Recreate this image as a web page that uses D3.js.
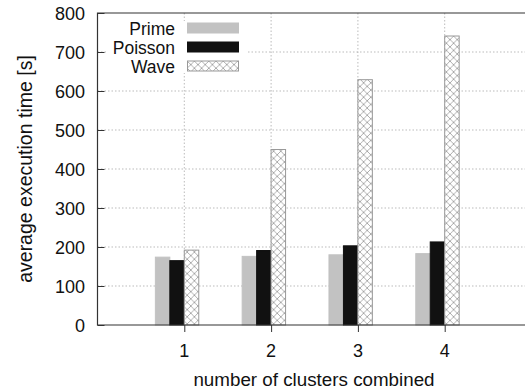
<!DOCTYPE html>
<html>
<head>
<meta charset="utf-8">
<script src="https://cdn.jsdelivr.net/npm/d3@7"></script>
<style>
  body { margin: 0; background: #fff; }
  svg { display: block; font-family: "Liberation Sans", Arial, sans-serif; }
</style>
</head>
<body>
<div id="chart"></div>
<script>
const clusters = [1, 2, 3, 4];
const primeTimes = [174, 176, 180, 183];
const poissonTimes = [165, 191, 203, 213];
const waveTimes = [192, 450, 629, 741];
const yTicks = [0, 100, 200, 300, 400, 500, 600, 700, 800];
const seriesNames = ["Prime", "Poisson", "Wave"];

const width = 525, height = 390;
const margin = { left: 97.5, top: 13, bottom: 325 };

const svg = d3.select("#chart")
    .append("svg")
    .attr("width", width)
    .attr("height", height);

// crosshatch for the Wave bars
const defs = svg.append("defs");
const hatch = defs.append("pattern")
    .attr("id", "hatch")
    .attr("patternUnits", "userSpaceOnUse")
    .attr("width", 7.2)
    .attr("height", 7.2);
hatch.append("rect").attr("width", 7.2).attr("height", 7.2).attr("fill", "#fff");
hatch.append("path")
    .attr("d", "M0,0L7.2,7.2M7.2,0L0,7.2")
    .attr("stroke", "#999")
    .attr("stroke-width", 0.8);

const x = d3.scaleLinear().domain([0, 5]).range([margin.left, margin.left + 5 * 86.8]);
const y = d3.scaleLinear().domain([0, 800]).range([margin.bottom, margin.top]);
const barW = (x(1) - x(0)) / 6;

// grid
svg.append("g")
    .selectAll("line")
    .data(yTicks.slice(1, -1))
    .enter().append("line")
    .attr("x1", margin.left).attr("x2", width)
    .attr("y1", d => y(d)).attr("y2", d => y(d))
    .attr("stroke", "#aaa")
    .attr("stroke-dasharray", "1.5,2")
    .attr("stroke-width", 0.8);

svg.append("g")
    .selectAll("line")
    .data(clusters)
    .enter().append("line")
    .attr("x1", d => x(d)).attr("x2", d => x(d))
    .attr("y1", margin.top).attr("y2", margin.bottom)
    .attr("stroke", "#aaa")
    .attr("stroke-dasharray", "1.5,2")
    .attr("stroke-width", 0.8);

// bars
const series = [
    { name: seriesNames[0], values: primeTimes, fill: "#c2c2c2", stroke: "#c2c2c2", off: -2 },
    { name: seriesNames[1], values: poissonTimes, fill: "#111", stroke: "#111", off: -1 },
    { name: seriesNames[2], values: waveTimes, fill: "url(#hatch)", stroke: "#999", off: 0 }
];

series.forEach(s => {
    svg.append("g")
        .selectAll("rect")
        .data(clusters.map((c, i) => ({ c, v: s.values[i] })))
        .enter().append("rect")
        .attr("x", d => x(d.c) + s.off * barW)
        .attr("y", d => y(d.v))
        .attr("width", barW)
        .attr("height", d => y(0) - y(d.v))
        .attr("fill", s.fill)
        .attr("stroke", s.stroke)
        .attr("stroke-width", 1);
});

// legend background hides the grid behind the key
svg.append("rect")
    .attr("x", 106).attr("y", 21).attr("width", 142).attr("height", 52)
    .attr("fill", "#fff");

// axes
const yAxis = svg.append("g")
    .attr("transform", `translate(${margin.left},0)`)
    .call(d3.axisRight(y).tickValues(yTicks).tickSize(7).tickFormat(""));
yAxis.select(".domain").remove();
yAxis.selectAll("line").attr("stroke", "#333");

svg.append("g")
    .selectAll("text")
    .data(yTicks)
    .enter().append("text")
    .attr("x", 85)
    .attr("y", d => y(d) + 6.5)
    .attr("text-anchor", "end")
    .style("font-size", "18px")
    .style("fill", "#111")
    .text(d => d);

const xAxis = svg.append("g")
    .attr("transform", `translate(0,${margin.bottom})`)
    .call(d3.axisBottom(x).tickValues(clusters).tickSize(7).tickFormat(""));
xAxis.select(".domain").remove();
xAxis.selectAll("line").attr("stroke", "#333");

svg.append("g")
    .selectAll("text")
    .data(clusters)
    .enter().append("text")
    .attr("x", d => x(d))
    .attr("y", 357)
    .attr("text-anchor", "middle")
    .style("font-size", "18px")
    .style("fill", "#111")
    .text(d => d);

// frame
svg.append("path")
    .attr("d", `M${width},${margin.top}H${margin.left}V${margin.bottom}H${width}`)
    .attr("fill", "none")
    .attr("stroke", "#333")
    .attr("stroke-width", 1.2);

// axis titles
svg.append("text")
    .attr("transform", `translate(32,${(margin.top + margin.bottom) / 2}) rotate(-90)`)
    .attr("text-anchor", "middle")
    .style("font-size", "19.5px")
    .style("fill", "#111")
    .text("average execution time [s]");

svg.append("text")
    .attr("x", 314)
    .attr("y", 386)
    .attr("text-anchor", "middle")
    .style("font-size", "18.8px")
    .style("fill", "#111")
    .text("number of clusters combined");

// legend
const legend = svg.append("g")
    .selectAll("g")
    .data(series)
    .enter().append("g")
    .attr("transform", (d, i) => `translate(0,${23 + i * 19})`);

legend.append("rect")
    .attr("x", 187.5)
    .attr("y", 0)
    .attr("width", 51)
    .attr("height", 10)
    .attr("fill", d => d.fill)
    .attr("stroke", d => d.stroke);

legend.append("text")
    .attr("x", 175)
    .attr("y", 11.5)
    .attr("text-anchor", "end")
    .style("font-size", "17.5px")
    .style("fill", "#111")
    .text(d => d.name);
</script>
</body>
</html>
